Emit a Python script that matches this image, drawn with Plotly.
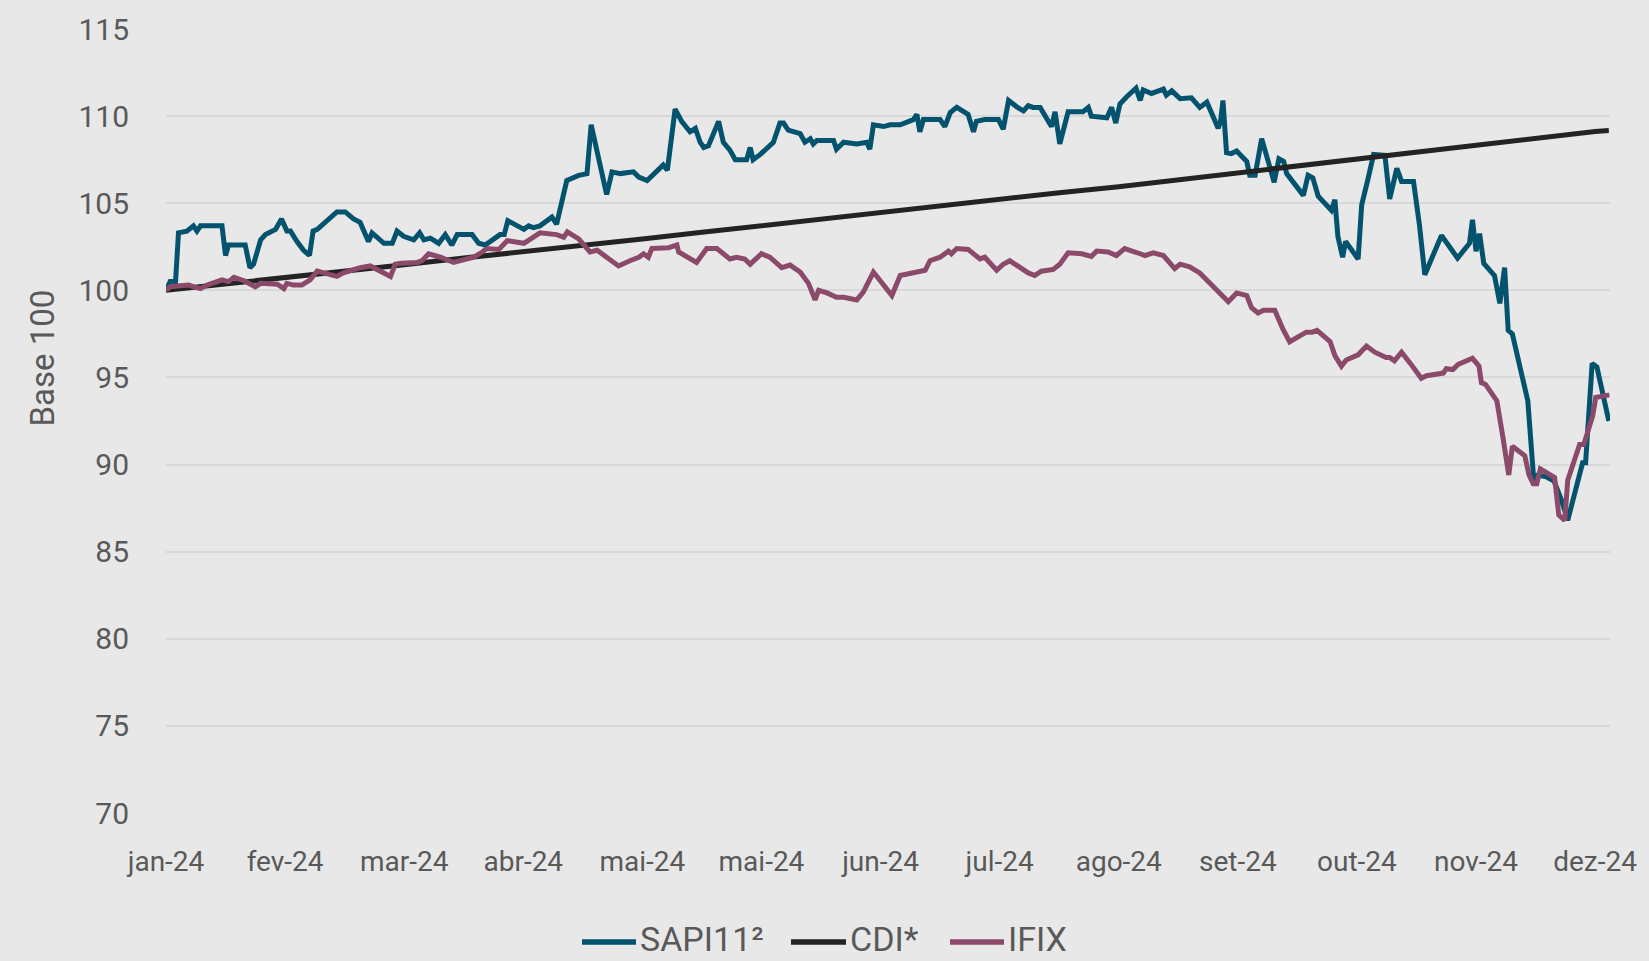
import plotly.graph_objects as go

# x = trading-day index (0 = start of jan-24), y = Base 100
tick_labels = ["jan-24", "fev-24", "mar-24", "abr-24", "mai-24", "mai-24", "jun-24",
               "jul-24", "ago-24", "set-24", "out-24", "nov-24", "dez-24"]
tick_pos = [0, 20, 40, 60, 80, 100, 120, 140, 160, 180, 200, 220, 240]

sapi_idx = [0, 0.7, 1.6, 2.1, 3.5, 4.6, 5.2, 5.8, 9.4, 10.0, 10.5, 13.3, 14.1, 14.7, 15.9, 16.7,
            18.4, 19.4, 20.3, 20.9, 22.0, 23.1, 24.1, 24.7, 25.4, 27.0, 28.7, 30.1, 31.5, 32.6,
            34.0, 34.6, 36.6, 38.0, 38.8, 39.9, 41.6, 42.6, 43.3,
            44.4, 45.8, 46.9, 48.0, 48.9, 51.4, 52.5, 53.6, 56.1, 56.8, 57.4, 60.1, 60.9, 61.7,
            62.8, 64.8, 65.6, 66.5, 67.3, 69.3, 70.7, 71.4, 74.0, 74.9, 76.3, 78.5, 79.4, 80.8,
            83.0, 83.5, 84.2, 85.5, 86.6, 88.0, 88.9, 89.7, 90.3, 91.1, 92.8,
            93.6, 94.7, 95.6, 97.5, 98.1, 98.6, 99.8, 102.0, 103.1, 103.7, 104.5, 106.5, 107.3,
            108.2, 108.7, 109.3, 112.1, 112.6, 113.8, 116.0, 117.7, 118.2, 118.8, 120.5, 121.6,
            123.3, 125.5, 126.1, 126.6, 127.2, 130.0, 130.8, 131.7, 132.8, 134.7, 135.6, 136.1,
            137.5, 139.8, 140.6, 141.5,
            143.0, 144.0, 144.8, 145.6, 146.8, 148.7, 149.3, 150.1, 151.5, 154.0, 154.9, 155.4,
            158.0, 158.8, 159.5, 160.2, 161.3, 162.9, 163.6, 164.1, 165.5, 167.5, 168.0, 168.9,
            170.3, 172.2, 173.6, 174.8, 176.7, 177.1, 177.5, 178.1, 178.9, 179.8, 181.5, 182.0,
            182.9, 184.0, 185.1, 186.1, 186.9, 187.7, 188.2,
            191.0, 191.8, 192.6, 193.5, 194.6, 195.7, 196.3, 196.8, 197.6, 198.1, 200.2, 200.8,
            201.9, 202.8, 204.7, 205.5, 206.7, 207.5, 209.5, 210.5, 211.4, 214.2, 216.9, 218.9,
            219.4, 220.0, 220.6, 221.3, 223.1, 224.0, 224.8, 225.4, 226.1, 228.7, 229.7, 230.4,
            231.8, 233.1, 234.3, 235.4, 237.9, 238.4, 239.5, 240.3, 242.3]
sapi_val = [100.0, 100.5, 100.5, 103.3, 103.4, 103.7, 103.4, 103.7, 103.7, 102.0, 102.6, 102.6,
            101.3, 101.5, 102.9, 103.2, 103.5, 104.1, 103.4, 103.4, 102.8, 102.3, 102.0, 103.4,
            103.5, 104.0, 104.5, 104.5, 104.1, 103.9, 102.8, 103.3, 102.7, 102.7, 103.4, 103.1,
            102.9, 103.3, 102.9,
            103.0, 102.7, 103.2, 102.6, 103.2, 103.2, 102.7, 102.6, 103.2, 103.2, 104.0, 103.5,
            103.7, 103.6, 103.7, 104.2, 103.8, 105.3, 106.3, 106.6, 106.7, 109.5, 105.5, 106.8,
            106.7, 106.8, 106.5, 106.3, 107.0, 107.2, 106.9, 110.4, 109.7, 109.1, 109.3, 108.5,
            108.2, 108.3, 109.7,
            108.5, 108.05, 107.5, 107.5, 108.2, 107.5, 107.8, 108.5, 109.6, 109.6, 109.2, 109.0,
            108.5, 108.7, 108.4, 108.6, 108.6, 108.1, 108.5, 108.4, 108.5, 108.1, 109.5, 109.4,
            109.5, 109.5, 109.8, 110.1, 109.1, 109.8, 109.8, 109.4, 110.2, 110.5, 110.1, 109.1,
            109.7, 109.8, 109.8, 109.25, 110.9,
            110.5, 110.3, 110.6, 110.5, 110.5, 109.4, 110.25, 108.4, 110.25, 110.25, 110.5, 110.0,
            109.9, 110.5, 109.6, 110.7, 111.1, 111.6, 110.9, 111.5, 111.3, 111.55, 111.2, 111.45,
            111.0, 111.05, 110.5, 110.8, 109.3, 109.7, 110.9, 107.9, 107.85, 108.0, 107.4, 106.6,
            106.6, 108.7, 107.4, 106.2, 107.55, 107.4, 106.7,
            105.45, 106.6, 106.45, 105.4, 105.0, 104.6, 105.2, 103.1, 101.9, 102.8, 101.8, 104.9,
            106.45, 107.8, 107.75, 105.25, 107.0, 106.25, 106.25, 103.75, 100.9, 103.15, 101.85,
            102.7, 104.05, 102.25, 103.25, 101.55, 100.85, 99.25, 101.3, 97.7, 97.5, 93.65, 89.1,
            89.4, 89.3, 89.05, 88.0, 86.8, 90.1, 90.1, 95.8, 95.6, 92.5]

cdi_idx = [0, 10, 20, 30, 40, 50, 60, 70, 80, 90, 100, 110, 120, 130, 140, 150, 160, 170,
           180, 190, 200, 210, 220, 230, 240, 242.3]
cdi_val = [100.0, 100.35, 100.72, 101.1, 101.47, 101.85, 102.2, 102.57, 102.95, 103.33, 103.72,
           104.1, 104.5, 104.87, 105.22, 105.6, 105.95, 106.35, 106.75, 107.15, 107.55, 107.95,
           108.35, 108.75, 109.12, 109.17]

ifix_idx = [0, 0.7, 1.9, 3.8, 4.7, 5.8, 6.9, 9.4, 10.5, 11.4, 13.1, 15.0, 15.9, 18.7, 19.8, 20.3,
            21.4, 22.8, 24.2, 25.4, 26.5, 28.7, 29.8, 32.6, 34.3, 36.0, 37.7, 38.5, 39.4, 42.2,
            43.0, 44.1,
            46.1, 48.3, 50.5, 51.7, 53.1, 53.9, 55.9, 57.3, 60.1, 62.8, 65.6, 66.8, 67.4, 69.3,
            71.2, 72.4, 74.0, 76.0, 77.9, 79.4, 80.2, 81.0, 81.6, 84.4, 85.8, 86.1, 89.1, 90.8,
            92.5,
            94.7, 95.8, 97.2, 98.1, 100.0, 101.4, 103.4, 104.8, 106.5, 107.9, 109.0, 109.6, 111.0,
            112.6, 113.8, 116.0, 117.1, 118.8, 121.9, 123.3, 126.6, 127.5, 128.3, 130.0, 131.4,
            131.9, 132.8, 134.7, 136.7, 137.5, 139.5, 140.6,
            141.7, 143.1, 144.8, 145.9, 147.0, 149.0, 150.1, 151.5, 153.8, 155.4, 156.3, 158.2,
            159.6, 161.0, 162.7, 163.6, 164.4, 165.8, 167.5, 169.4, 170.3, 171.9, 173.6, 175.3,
            177.0, 178.4, 179.8, 181.5, 182.3, 183.4, 184.3, 186.2, 187.6,
            188.7, 191.5, 192.5, 193.3, 195.5, 196.3, 197.4, 198.2, 200.2, 201.6, 203.0, 204.9,
            205.5, 206.3, 207.5, 209.1, 210.8, 211.7, 214.5, 215.0, 216.1, 217.0, 219.4, 220.5,
            220.9, 221.6, 223.5, 224.5, 225.5, 226.1, 228.2, 228.9, 229.6, 230.2, 230.8, 233.2,
            233.9, 234.9, 235.4, 237.4, 238.1, 239.6, 240.1, 242.4]
ifix_val = [100.0, 100.2, 100.25, 100.3, 100.2, 100.1, 100.3, 100.6, 100.5, 100.75, 100.55, 100.2,
            100.4, 100.35, 100.1, 100.4, 100.3, 100.3, 100.6, 101.1, 101.0, 100.8, 101.0, 101.3,
            101.4, 101.1, 100.8, 101.5, 101.55, 101.6, 101.7, 102.1,
            101.9, 101.6, 101.8, 101.9, 102.2, 102.4, 102.35, 102.85, 102.7, 103.3, 103.2, 103.05,
            103.35, 102.95, 102.2, 102.3, 101.9, 101.4, 101.7, 101.9, 102.1, 101.9, 102.4, 102.45,
            102.6, 102.2, 101.6, 102.4, 102.4,
            101.8, 101.9, 101.8, 101.5, 102.1, 101.9, 101.3, 101.45, 101.05, 100.4, 99.45, 100.0,
            99.85, 99.6, 99.6, 99.45, 99.9, 101.05, 99.7, 100.85, 101.1, 101.15, 101.7, 101.9,
            102.25, 102.1, 102.4, 102.35, 101.8, 101.9, 101.15, 101.5,
            101.7, 101.4, 101.0, 100.85, 101.1, 101.2, 101.5, 102.15, 102.1, 101.95, 102.25, 102.2,
            102.0, 102.4, 102.25, 102.1, 102.0, 102.15, 102.0, 101.25, 101.5, 101.35, 101.0,
            100.45, 99.9, 99.35, 99.85, 99.7, 99.0, 98.7, 98.85, 98.85, 97.75,
            97.05, 97.6, 97.6, 97.7, 97.05, 96.25, 95.65, 96.0, 96.3, 96.8, 96.45, 96.15, 96.15,
            95.95, 96.45, 95.75, 94.95, 95.1, 95.25, 95.5, 95.45, 95.75, 96.1, 95.65, 94.7, 94.6,
            93.65, 91.6, 89.4, 91.05, 90.5, 89.4, 88.9, 88.9, 89.75, 89.25, 87.1, 86.8, 89.1,
            91.15, 91.15, 92.8, 93.85, 94.0]

series_names = ["SAPI11²", "CDI*", "IFIX"]
series_colors = ["#03536E", "#232323", "#8C4A6B"]

BG = "#E8E8E8"
TXT = "#595959"
FONT = "Roboto, Noto Sans, sans-serif"

# figure / plot-area geometry (pixels)
W, H = 1649, 961
ML, MR, MT, MB = 166, 39, 29, 148
PW, PH = W - ML - MR, H - MT - MB


def px_x(p):
    return (p - ML) / PW


def px_y(p):
    return (H - MB - p) / PH


fig = go.Figure()
for name, xs, ys, col in [
    (series_names[0], sapi_idx, sapi_val, series_colors[0]),
    (series_names[1], cdi_idx, cdi_val, series_colors[1]),
    (series_names[2], ifix_idx, ifix_val, series_colors[2]),
]:
    fig.add_trace(go.Scatter(x=xs, y=ys, mode="lines", name=name,
                             line=dict(color=col, width=5, shape="linear"),
                             hoverinfo="skip", showlegend=False))

# custom legend (long line samples as in the original)
legend_line_x = [(582, 636), (791, 846), (950, 1004)]
legend_y = 942
shapes = []
annotations = []
for (x0, x1), name, col in zip(legend_line_x, series_names, series_colors):
    shapes.append(dict(type="line", xref="paper", yref="paper",
                       x0=px_x(x0), x1=px_x(x1), y0=px_y(legend_y), y1=px_y(legend_y),
                       line=dict(color=col, width=5.5)))
    annotations.append(dict(text=name, xref="paper", yref="paper", x=px_x(x1 + 2),
                            y=px_y(legend_y - 3), xanchor="left", yanchor="middle",
                            showarrow=False, font=dict(size=34, color=TXT)))

annotations.append(dict(text="Base 100", xref="paper", yref="paper", x=px_x(42.5), y=px_y(358),
                        textangle=-90, showarrow=False, font=dict(size=33, color=TXT),
                        xanchor="center", yanchor="middle"))

fig.update_layout(
    width=W, height=H,
    paper_bgcolor=BG, plot_bgcolor=BG,
    margin=dict(l=ML, r=MR, t=MT, b=MB, autoexpand=False),
    font=dict(family=FONT, color=TXT, size=28),
    showlegend=False,
    xaxis=dict(range=[0, 242.5], tickmode="array", tickvals=tick_pos, ticktext=tick_labels,
               showgrid=False, zeroline=False, showline=False, ticks="",
               tickfont=dict(size=28, color=TXT), ticklabelstandoff=29),
    yaxis=dict(range=[70, 115], tickmode="array", tickvals=list(range(70, 116, 5)),
               showgrid=True, gridcolor="#D8D8D8", gridwidth=2, zeroline=False,
               showline=False, ticks="", tickfont=dict(size=30, color=TXT),
               ticklabelstandoff=36),
    shapes=shapes,
    annotations=annotations,
)

fig.write_html("out.html", config={"displayModeBar": False},
               post_script="document.body.style.margin='0';"
                           "document.body.style.background='#E8E8E8';")
